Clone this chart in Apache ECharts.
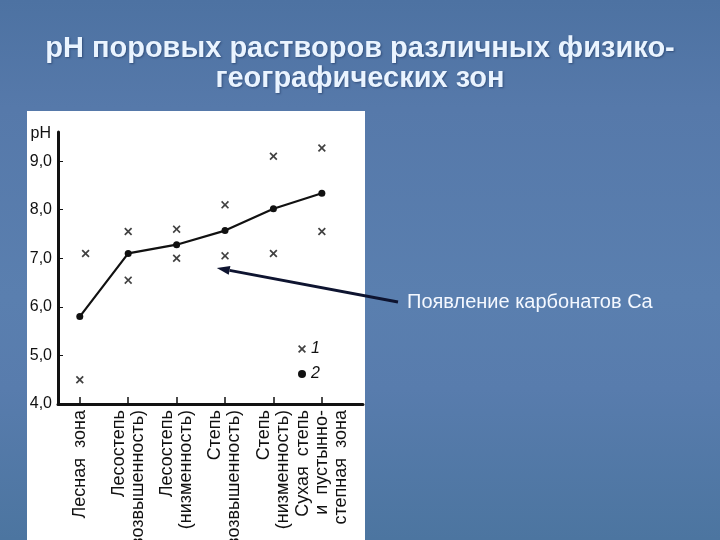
<!DOCTYPE html>
<html>
<head>
<meta charset="utf-8">
<script src="https://cdn.jsdelivr.net/npm/echarts@6/dist/echarts.min.js"></script>
<style>
  html, body { margin: 0; padding: 0; }
  body {
    width: 720px; height: 540px; overflow: hidden;
    background: linear-gradient(180deg, #4d72a2 0%, #5679aa 20%, #5a7faf 55%, #587cad 72%, #4c75a0 100%);
  }
  #chart { width: 720px; height: 540px; }
</style>
</head>
<body>
<div id="chart"></div>
<script>
// зоны (подписи оси X)
const zones = [
  'Лесная  зона',
  'Лесостепь\n(возвышенность)',
  'Лесостепь\n(низменность)',
  'Степь\n(возвышенность)',
  'Степь\n(низменность)',
  'Сухая  степь\nи  пустынно-\nстепная  зона'
];
const zoneIdx = [0, 1, 2, 3, 4, 5];
const phTicks = [4, 5, 6, 7, 8, 9];
// 1 - отдельные определения (крестики)
const singleValues = [
  [0.12, 7.1], [0, 4.5],
  [1, 7.55], [1, 6.55],
  [2, 7.6], [2, 7.0],
  [3, 8.1], [3, 7.05],
  [4, 9.1], [4, 7.1],
  [5, 9.27], [5, 7.55]
];
// 2 - средние значения (точки с линией)
const meanValues = [5.8, 7.1, 7.28, 7.57, 8.02, 8.34];
// точка, куда указывает стрелка
const arrowTip = [2.83, 6.8];

const crossIcon = 'path://M0,1.5L1.5,0L5,3.5L8.5,0L10,1.5L6.5,5L10,8.5L8.5,10L5,6.5L1.5,10L0,8.5L3.5,5Z';
const ink = '#111111';

const option = {
  animation: false,
  title: {
    text: 'pH поровых растворов различных физико-\nгеографических зон',
    left: 'center',
    top: 29,
    textStyle: {
      color: '#eaf4ff',
      fontFamily: 'Liberation Sans',
      fontWeight: 'bold',
      fontSize: 29,
      lineHeight: 30,
      textShadowColor: 'rgba(20,40,80,0.5)',
      textShadowBlur: 2,
      textShadowOffsetX: 1,
      textShadowOffsetY: 1
    }
  },
  legend: {
    orient: 'vertical',
    left: 293,
    top: 336,
    itemWidth: 8,
    itemHeight: 8,
    itemGap: 9,
    textStyle: { color: ink, fontSize: 16, fontStyle: 'italic', fontFamily: 'Liberation Sans' },
    data: [
      { name: '1', icon: crossIcon },
      { name: '2', icon: 'circle' }
    ]
  },
  grid: {
    left: 58, right: 357, top: 132, bottom: 136,
    containLabel: false,
    outerBoundsMode: 'none'
  },
  xAxis: {
    type: 'value',
    min: -0.45,
    max: 5.85,
    axisLine: { onZero: false, lineStyle: { color: ink, width: 3 } },
    axisTick: {
      customValues: zoneIdx,
      inside: true,
      length: 7,
      lineStyle: { color: ink, width: 1.5 }
    },
    axisLabel: {
      customValues: zoneIdx,
      rotate: 90,
      margin: 6,
      hideOverlap: false,
      showMinLabel: true,
      showMaxLabel: true,
      color: ink,
      fontSize: 18,
      lineHeight: 19,
      fontFamily: 'Liberation Sans',
      formatter: v => zones[Math.round(v)]
    },
    splitLine: { show: false }
  },
  yAxis: {
    type: 'value',
    min: 4,
    max: 9.6,
    name: 'pH',
    nameLocation: 'end',
    nameGap: -2,
    nameTextStyle: {
      color: ink, fontSize: 16, fontFamily: 'Liberation Sans',
      align: 'right', verticalAlign: 'middle', padding: [0, 7, 0, 0]
    },
    axisLine: { show: true, onZero: false, lineStyle: { color: ink, width: 3 } },
    axisTick: {
      show: true,
      customValues: phTicks,
      inside: true,
      length: 5,
      lineStyle: { color: ink, width: 1 }
    },
    axisLabel: {
      customValues: phTicks,
      margin: 6,
      color: ink,
      fontSize: 16,
      fontFamily: 'Liberation Sans',
      formatter: v => v.toFixed(1).replace('.', ',')
    },
    splitLine: { show: false }
  },
  graphic: [
    {
      id: 'panel',
      type: 'rect',
      z: -10,
      shape: { x: 27, y: 111, width: 338, height: 429 },
      style: { fill: '#ffffff' }
    },
    {
      id: 'note',
      type: 'text',
      left: 407,
      top: 292,
      style: {
        text: 'Появление карбонатов Ca',
        fill: '#f4f8ff',
        fontSize: 20,
        fontFamily: 'Liberation Sans'
      }
    }
  ],
  series: [
    {
      name: '1',
      type: 'scatter',
      symbol: crossIcon,
      symbolSize: 8,
      itemStyle: { color: ink },
      data: singleValues
    },
    {
      name: '2',
      type: 'line',
      symbol: 'circle',
      symbolSize: 7,
      showSymbol: true,
      itemStyle: { color: ink },
      lineStyle: { color: ink, width: 2.2 },
      data: meanValues.map((v, i) => [zoneIdx[i], v])
    }
  ]
};

const myChart = echarts.init(document.getElementById('chart'));
myChart.setOption(option);

// стрелка от подписи к графику
const tip = myChart.convertToPixel({ gridIndex: 0 }, arrowTip);
const tail = [398, 302];
const ang = Math.atan2(tail[1] - tip[1], tail[0] - tip[0]);
const headLen = 13, headW = 4.5;
const base = [tip[0] + Math.cos(ang) * headLen, tip[1] + Math.sin(ang) * headLen];
const nx = -Math.sin(ang), ny = Math.cos(ang);
myChart.setOption({
  graphic: [
    {
      id: 'arrowLine',
      type: 'line',
      z: 100,
      shape: { x1: tail[0], y1: tail[1], x2: base[0], y2: base[1] },
      style: { stroke: '#0e1430', lineWidth: 3 }
    },
    {
      id: 'arrowHead',
      type: 'polygon',
      z: 100,
      shape: {
        points: [
          tip,
          [base[0] + nx * headW, base[1] + ny * headW],
          [base[0] - nx * headW, base[1] - ny * headW]
        ]
      },
      style: { fill: '#0e1430' }
    }
  ]
});
</script>
</body>
</html>
